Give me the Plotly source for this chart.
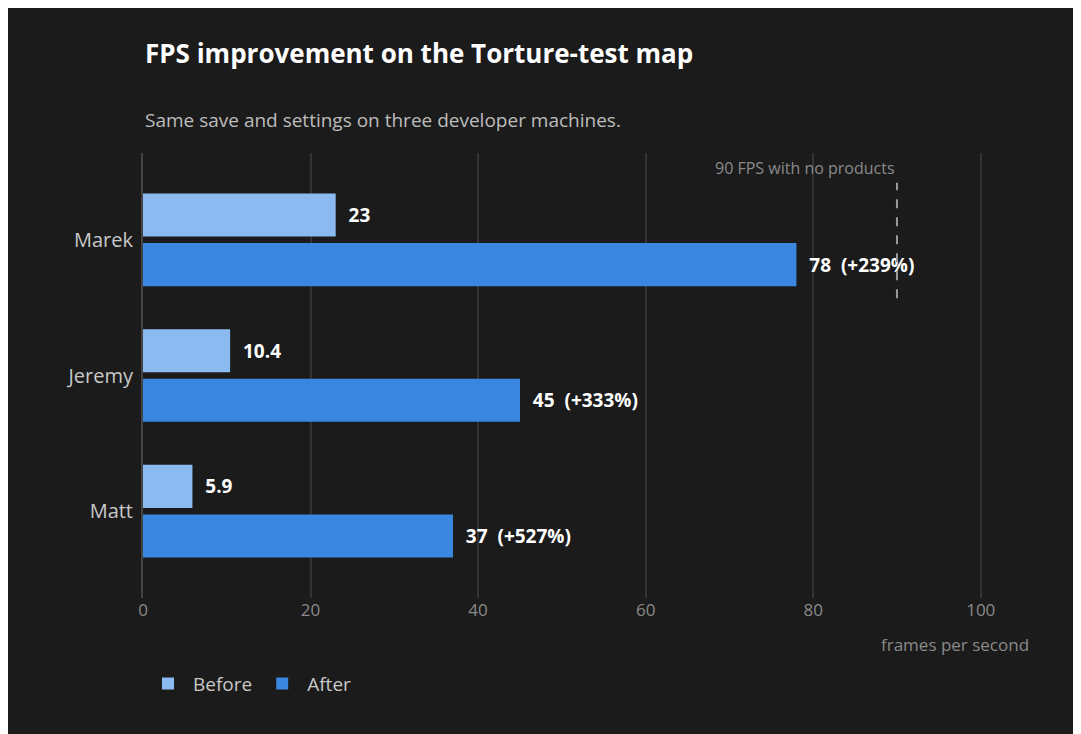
""" Module for the FPS comparison chart. """
import plotly.graph_objects as go

machines = ["Matt", "Jeremy", "Marek"]
before = [5.9, 10.4, 23]
after = [37, 45, 78]


def plot_fps_improvement(machines, before, after):
    """Plot before/after FPS per developer machine with Plotly.

    Parameters
    ----------
    machines : list
        Names of the developer machines.
    before, after : list
        Frames per second before and after the change.
    """
    after_text = [
        f"  {a:g}  (+{round((a - b) / b * 100)}%)" for a, b in zip(after, before)
    ]
    label_font = dict(color="white", size=19, family="Open Sans", weight="bold")

    fig = go.Figure()
    # horizontal groups stack bottom-up, so "After" goes in first
    fig.add_trace(
        go.Bar(
            y=machines, x=after,
            name="After",
            orientation="h",
            marker=dict(color="#3a87e2", line=dict(width=0)),
            text=after_text,
            textposition="outside",
            textfont=label_font,
            cliponaxis=False,
        )
    )
    fig.add_trace(
        go.Bar(
            y=machines, x=before,
            name="Before",
            orientation="h",
            marker=dict(color="#8bbaf1", line=dict(width=0)),
            text=[f"  {b:g}" for b in before],
            textposition="outside",
            textfont=label_font,
            cliponaxis=False,
        )
    )

    fig.add_shape(
        type="line", x0=90, x1=90, y0=1.57, y1=2.42,
        xref="x", yref="y",
        line=dict(color="#9a9a9a", width=2, dash="dash"),
    )
    fig.add_annotation(
        x=90, y=2.53, xref="x", yref="y",
        text="90 FPS with no products",
        showarrow=False, xanchor="right",
        font=dict(color="#8a8a8a", size=16),
    )
    fig.add_annotation(
        x=0, y=1, xref="paper", yref="paper", yshift=80,
        text="<b>FPS improvement on the Torture-test map</b>",
        showarrow=False, xanchor="left", yanchor="bottom",
        font=dict(color="white", size=26),
    )
    fig.add_annotation(
        x=0, y=1, xref="paper", yref="paper", yshift=18,
        text="Same save and settings on three developer machines.",
        showarrow=False, xanchor="left", yanchor="bottom",
        font=dict(color="#bdbdbd", size=19),
    )
    fig.add_annotation(
        x=1, y=0, xref="paper", yref="paper", yshift=-60,
        text="frames per second",
        showarrow=False, xanchor="right", yanchor="bottom",
        font=dict(color="#8a8a8a", size=17),
    )

    fig.update_layout(
        font=dict(family="Open Sans"),
        width=1081, height=734,
        paper_bgcolor="#1b1b1b", plot_bgcolor="#1b1b1b",
        barmode="group", bargap=0.27, bargroupgap=0.13,
        margin=dict(l=135, r=58, t=145, b=144),
        legend=dict(
            orientation="h", x=0, xanchor="left", y=-0.15, yanchor="top",
            traceorder="reversed", font=dict(color="#c8c8c8", size=19),
            itemwidth=40,
        ),
        xaxis=dict(
            range=[0, 106], tickvals=[0, 20, 40, 60, 80, 100],
            showgrid=True, gridcolor="#333333", gridwidth=2, zeroline=False,
            tickfont=dict(color="#8a8a8a", size=17),
        ),
        yaxis=dict(
            range=[-0.64, 2.64], showgrid=False, zeroline=False,
            showline=True, linecolor="#444444", linewidth=2,
            ticks="", ticklabelstandoff=4,
            tickfont=dict(color="#c8c8c8", size=20),
        ),
    )
    return fig


fig = plot_fps_improvement(machines, before, after)
fig.write_html("out.html")
